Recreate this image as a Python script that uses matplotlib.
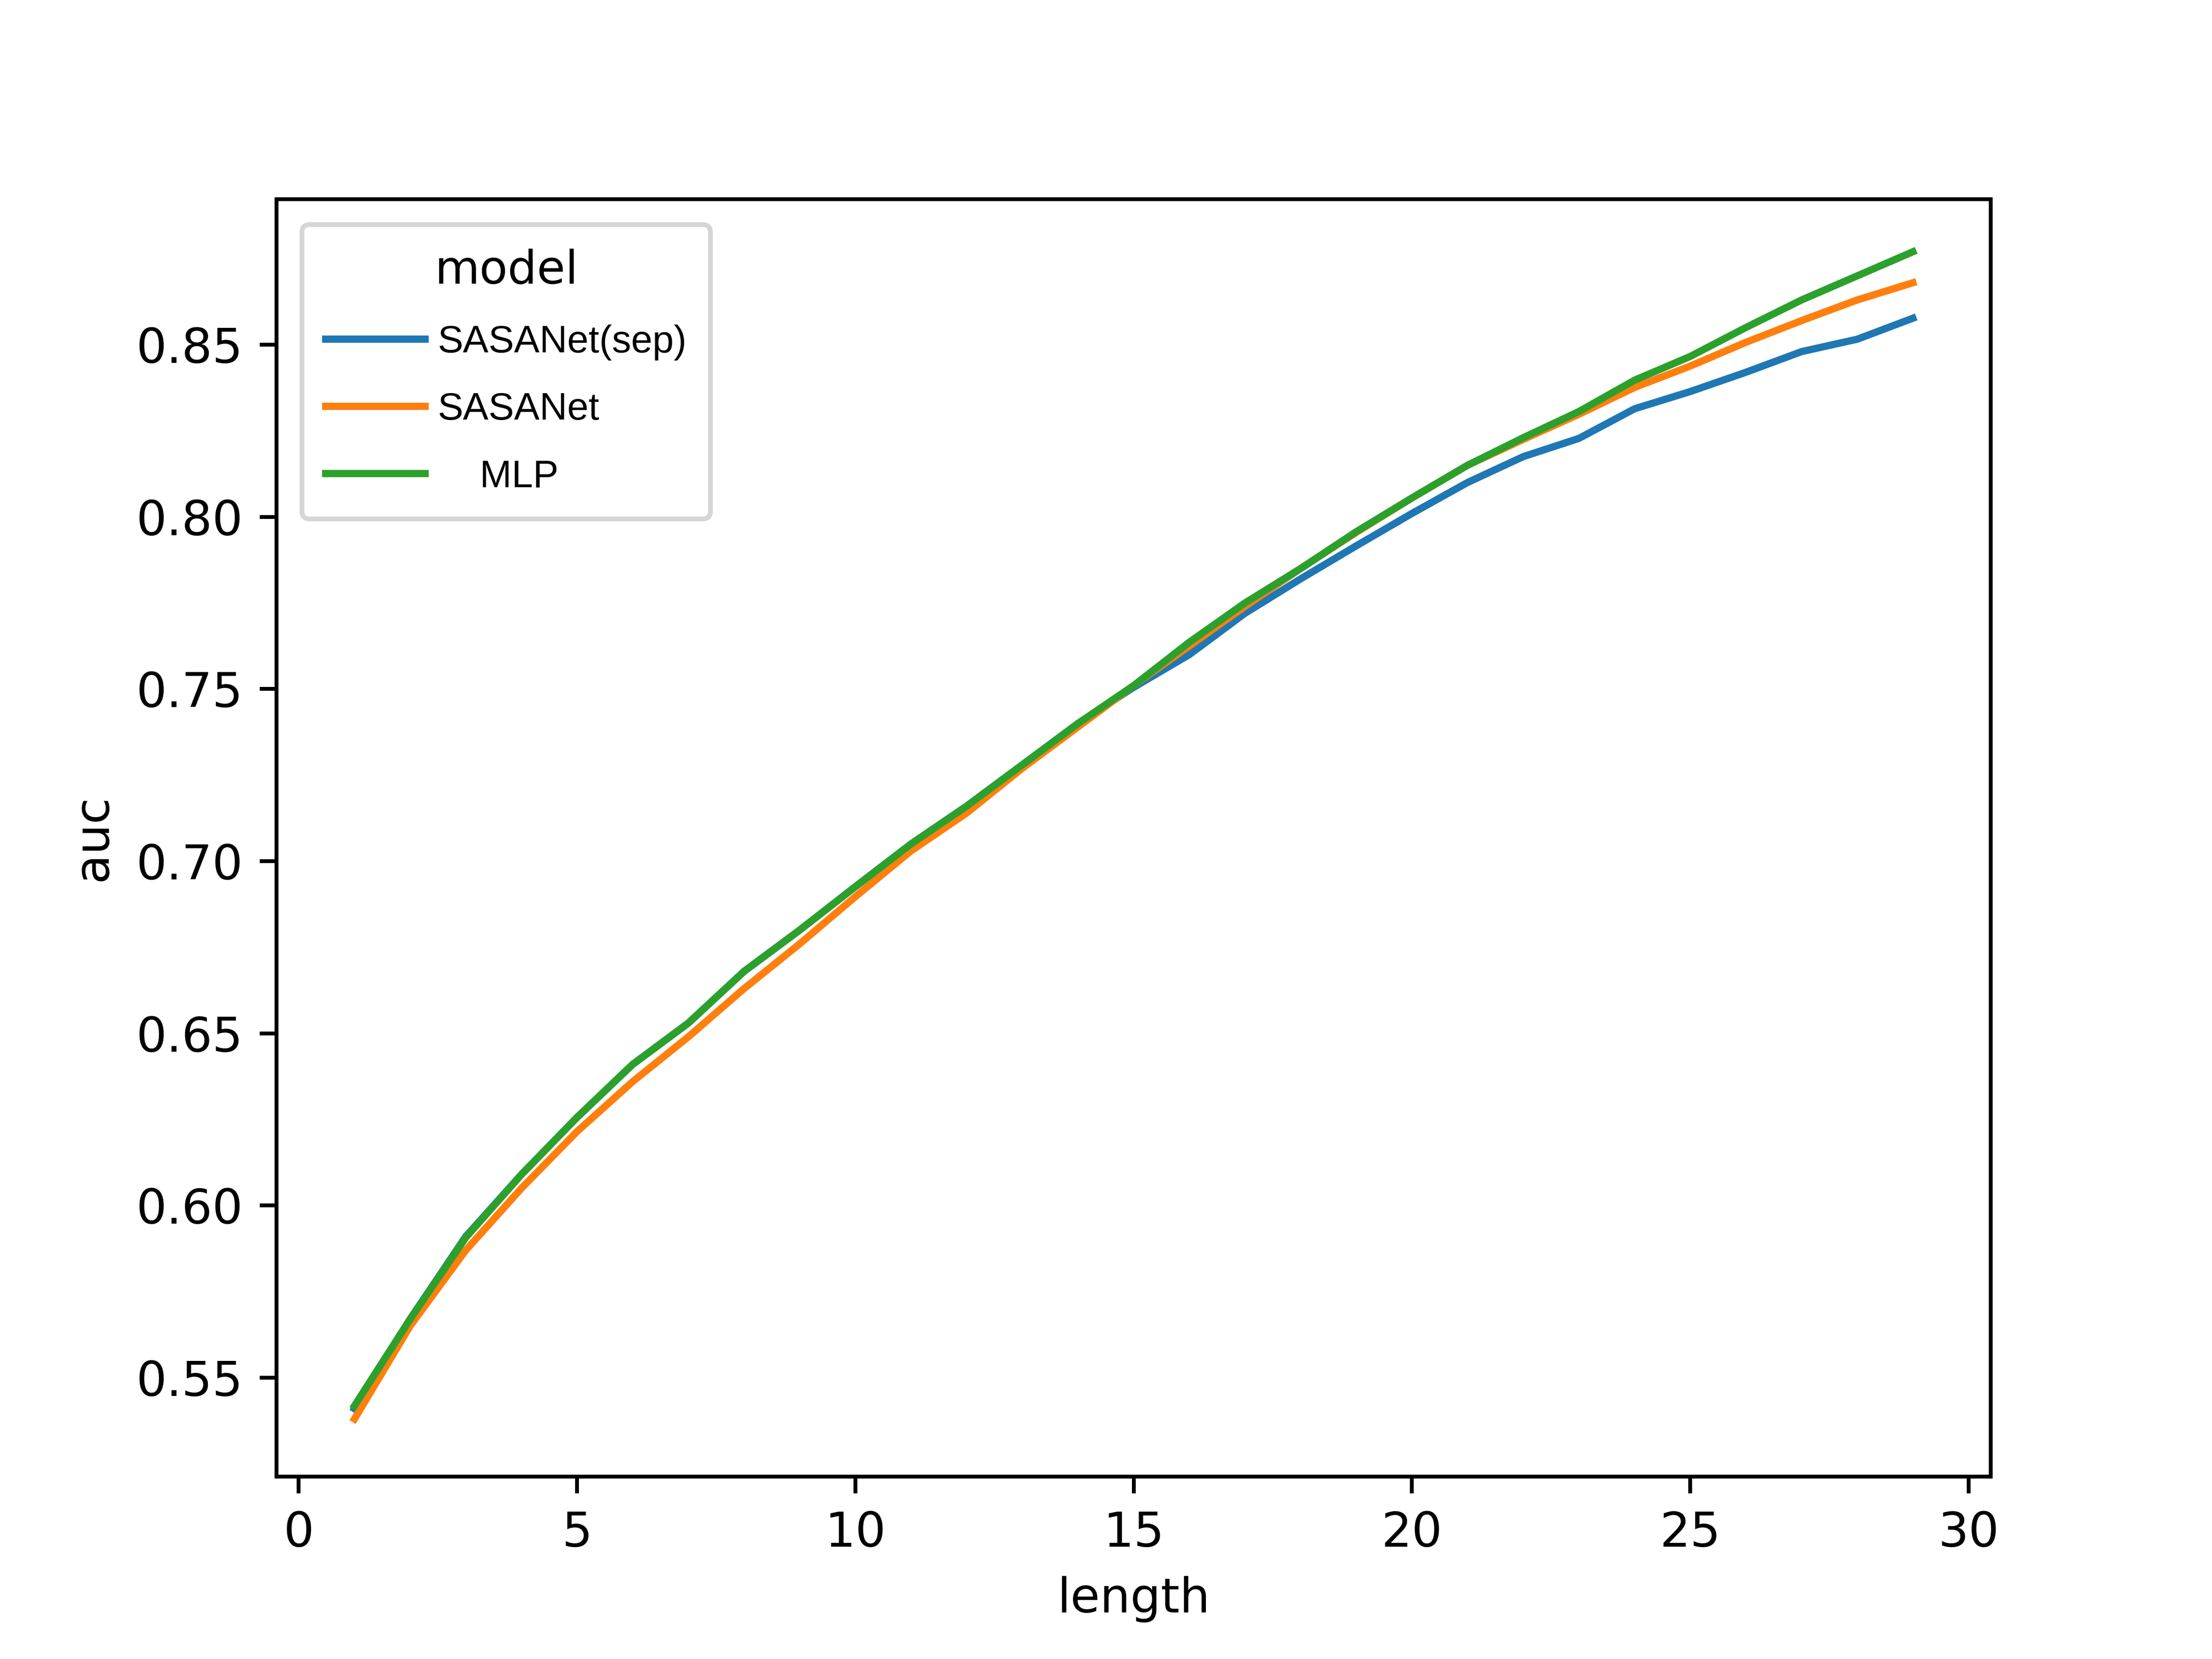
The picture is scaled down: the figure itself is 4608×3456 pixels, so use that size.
import matplotlib
matplotlib.use("Agg")
import matplotlib.pyplot as plt
from matplotlib.font_manager import FontProperties
import numpy as np

length = list(range(1, 30))
sasanet_sep = [0.541, 0.567, 0.591, 0.609, 0.6256, 0.641, 0.653, 0.668, 0.680, 0.6926,
               0.705, 0.716, 0.728, 0.740, 0.7505, 0.760, 0.772, 0.782, 0.7916, 0.801,
               0.810, 0.8175, 0.8228, 0.8314, 0.8364, 0.842, 0.848, 0.8516, 0.8577]
sasanet = [0.538, 0.565, 0.587, 0.605, 0.6215, 0.636, 0.649, 0.663, 0.676, 0.6897,
           0.703, 0.714, 0.727, 0.739, 0.751, 0.7625, 0.774, 0.785, 0.7955, 0.8055,
           0.815, 0.8225, 0.8298, 0.8376, 0.8438, 0.8507, 0.857, 0.863, 0.868]
mlp = [0.5418, 0.567, 0.5907, 0.609, 0.6256, 0.641, 0.653, 0.668, 0.680, 0.6926,
       0.705, 0.716, 0.728, 0.740, 0.751, 0.7636, 0.775, 0.785, 0.7957, 0.8055,
       0.815, 0.823, 0.8306, 0.8397, 0.8466, 0.855, 0.863, 0.870, 0.877]
series_names = ["SASANet(sep)", "SASANet", "    MLP"]
legend_title = "model"
colors = ["#1f77b4", "#ff7f0e", "#2ca02c"]

fig, ax = plt.subplots(figsize=(6.4, 4.8), dpi=720)
for name, vals, c in zip(series_names, [sasanet_sep, sasanet, mlp], colors):
    ax.plot(length, vals, color=c, lw=1.5, label=name)

ax.set_xlim(-0.4, 30.4)
ax.set_ylim(0.5213, 0.8923)
ax.set_xticks([0, 5, 10, 15, 20, 25, 30])
ax.set_yticks([0.55, 0.60, 0.65, 0.70, 0.75, 0.80, 0.85])
ax.set_yticklabels(["0.55", "0.60", "0.65", "0.70", "0.75", "0.80", "0.85"])
ax.set_xlabel("length")
ax.set_ylabel("auc")

# size legend fonts so the text widths match the reference
fig.canvas.draw()
renderer = fig.canvas.get_renderer()
def fit_size(s, family, target_px):
    fp = FontProperties(family=family, size=10)
    w, h, d = renderer.get_text_width_height_descent(s, fp, ismath=False)
    return 10 * target_px / w

lab_fam = "Liberation Sans"
fs = fit_size("SASANet(sep)", lab_fam, 519)
tfs = fit_size(legend_title, "DejaVu Sans", 300)

leg = ax.legend(title=legend_title, loc="upper left",
                prop={"family": lab_fam, "size": fs},
                title_fontproperties={"family": "DejaVu Sans", "size": tfs},
                handlelength=20.7 / fs, handletextpad=2.6 / fs,
                labelspacing=0.82, borderaxespad=5.3 / fs, borderpad=0.62)
fig.savefig("out.png")
